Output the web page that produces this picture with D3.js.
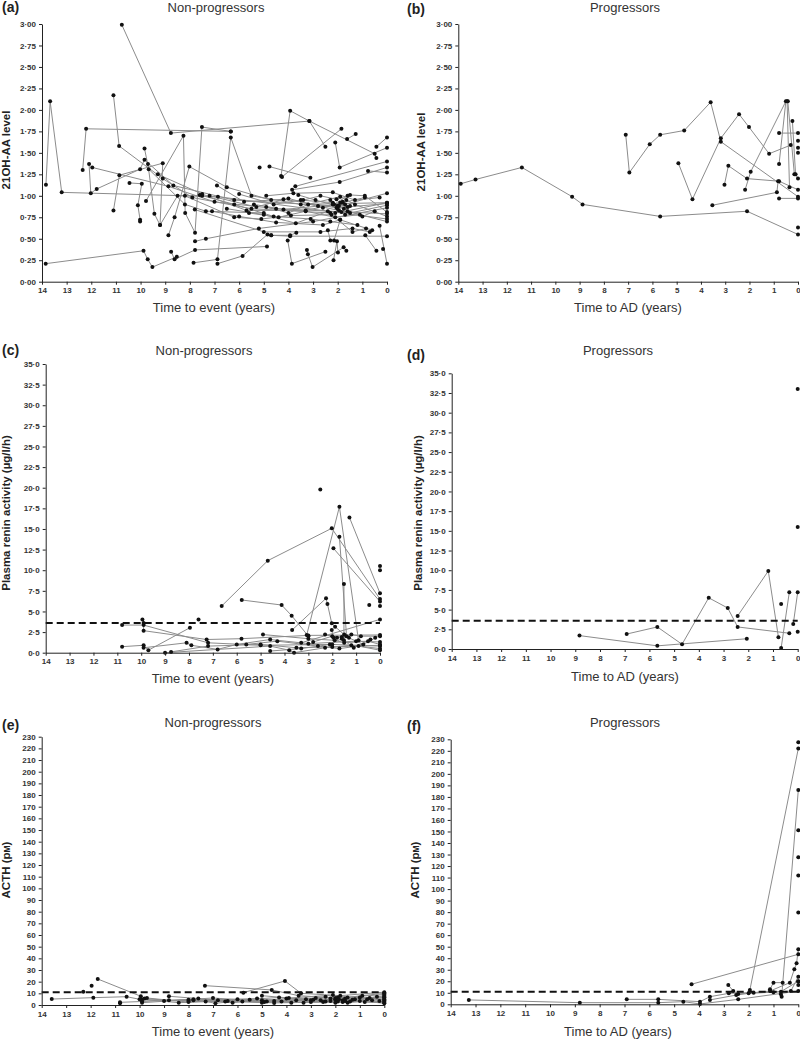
<!DOCTYPE html>
<html>
<head>
<meta charset="utf-8">
<script src="https://cdn.jsdelivr.net/npm/d3@7"></script>
<style>
body { margin: 0; background: #fff; }
svg text { font-family: "Liberation Sans", Arial, sans-serif; }
</style>
</head>
<body>
<div id="container"></div>
<script>

// each subject is a list of [years before event, value]
const aaNon = [
  [[13.84,1.13],[13.67,2.10],[13.2,1.04],[6.86,0.99],[0,0.73]],
  [[13.85,0.21],[9.88,0.36],[9.71,0.26],[9.52,0.17],[8.53,0.29]],
  [[8.76,0.35],[8.62,0.26],[7.79,0.37],[4.87,0.41]],
  [[12.35,1.30],[12.21,1.78],[6.34,1.75]],
  [[10.76,2.99],[8.77,1.73],[3.15,1.87],[0.5,1.49],[0.43,1.44]],
  [[11.1,2.17],[10.87,1.58],[9.1,1.2],[7.9,0.98],[5.5,0.85],[2.3,0.8]],
  [[11.1,0.83],[10.86,1.24],[9.1,1.38],[9.21,0.66]],
  [[12.09,1.37],[12.02,1.03],[11.78,1.08],[10.02,1.31],[9.84,1.42],[8.67,1.12],[6.2,0.95],[2.0,0.88]],
  [[11.96,1.33],[8.87,1.11],[7.0,0.93],[4.5,0.85],[0,0.79]],
  [[10.45,1.15],[9.95,1.14],[10.11,0.89],[10.02,0.72],[10.02,0.70]],
  [[9.84,1.55],[9.67,1.31],[8.2,0.9],[7.35,0.82],[5.0,0.8]],
  [[9.7,1.37],[9.44,0.79],[9.21,0.66],[8.5,1.0],[7.5,1.0]],
  [[9.78,0.94],[8.26,1.70],[8.19,0.80],[7.79,0.57],[7.51,1.80],[6.34,1.75]],
  [[8.87,0.54],[8.62,0.75],[8.02,1.34],[6.5,1.1],[4.7,0.95]],
  [[7.85,0.22],[6.88,0.26],[6.34,1.68],[5.5,1.0],[3.5,0.9],[0,0.92]],
  [[7.79,0.47],[7.35,0.50],[5.2,0.62],[3.0,0.7],[0,0.86]],
  [[6.88,0.21],[5.86,0.30],[4.85,0.55],[4.7,0.54],[3.93,0.54],[3.68,0.57]],
  [[5.17,1.33]],
  [[4.77,1.34],[3.11,1.21]],
  [[4.3,1.23],[3.93,1.99],[3.15,1.87],[2.5,1.57]],
  [[4.26,1.22],[1.85,1.78]],
  [[2.1,1.62],[1.92,1.33],[0,1.56]],
  [[1.62,1.66],[1.27,1.72]],
  [[0.43,1.57],[0,1.68]],
  [[3.72,1.11],[0,1.40]],
  [[3.85,1.07],[1.92,1.16],[0,1.33]],
  [[0.77,1.29],[0,1.27]],
  [[4.03,0.48],[3.86,0.21],[2.5,0.35]],
  [[3.25,0.37],[3.21,0.32],[3.02,0.17],[1.76,0.40],[1.65,0.36]],
  [[2.17,0.25],[2.03,0.47],[1.99,0.34]],
  [[0.88,0.54],[0.43,0.36]],
  [[0.16,0.38]],
  [[0.3,0.65],[0,0.21]],
  [[4.7,0.54],[3.93,0.53],[0,0.53]],
  [[6.0,1.02],[4.6,0.9],[3.5,0.95],[2.2,0.92],[1.6,0.87],[0,0.91]],
  [[5.6,0.8],[4.4,0.75],[3.3,0.82],[2.1,0.75],[1.1,0.78],[0,0.70]],
  [[7.2,1.0],[5.3,0.87],[4.0,0.97],[2.6,0.86],[1.8,0.92],[0.9,0.98]],
  [[6.5,0.85],[5.0,0.78],[3.7,0.68],[2.4,0.82],[1.5,0.80],[0,0.89]],
  [[4.9,1.0],[3.8,1.03],[2.2,1.04],[1.3,0.95],[0.3,0.98]],
  [[5.4,0.9],[4.2,0.84],[2.8,0.88],[1.95,0.83],[1.7,0.9],[0,1.03]],
  [[7.6,1.01],[6.2,0.9],[4.6,0.76],[3.1,0.73],[2.3,0.7],[1.2,0.66]],
  [[3.6,1.01],[2.9,0.95],[2.0,0.88],[1.75,0.85],[1.0,0.76],[0.5,0.82]],
  [[6.9,1.12],[5.8,0.93],[4.2,0.96],[2.05,0.86],[1.85,0.81],[0,0.92]],
  [[9.3,1.25],[7.5,1.02],[5.7,0.83],[3.3,0.83],[2.15,0.9],[1.6,1.0]],
  [[8.2,1.0],[6.2,0.75],[5.1,0.73],[3.9,0.77],[2.25,0.78],[1.4,0.58],[0.85,0.62]],
  [[7.1,0.82],[6.0,0.76],[4.5,0.69],[2.6,0.66],[1.9,0.72],[0.6,0.6]],
  [[3.4,0.95],[2.7,1.0],[2.05,0.96],[1.5,1.01],[0.9,1.0],[0,0.81]],
  [[4.9,0.87],[4.0,0.8],[3.2,0.9],[1.9,0.99],[1.3,0.9],[0,0.76]],
  [[7.8,0.84],[5.0,0.58],[2.7,0.58],[1.4,0.62],[0.7,0.58]],
  [[2.4,0.6],[2.3,0.48],[2.15,0.48],[1.9,0.72]],
  [[2.2,0.9],[2.0,0.85],[1.8,0.93],[1.6,0.82]],
  [[2.1,0.8],[1.9,0.92],[1.7,0.78],[1.5,0.88]],
  [[2.3,0.95],[1.95,0.88],[1.65,0.95]]
];

const aaProg = [
  [[13.9,1.14],[13.29,1.19],[11.38,1.33],[9.31,0.99],[8.88,0.9],[5.68,0.76],[2.1,0.82],[0,0.55]],
  [[7.1,1.71],[6.95,1.27],[6.11,1.6],[5.68,1.71],[4.69,1.76],[3.6,2.09],[3.18,1.63],[0,0.99]],
  [[4.93,1.38],[4.35,0.96],[3.18,1.67],[2.43,1.95],[2.02,1.8],[1.19,1.49],[0.3,1.59]],
  [[2.18,1.07],[1.95,1.28],[0.5,2.1],[0.78,1.37]],
  [[0.45,2.1],[0.35,1.1]],
  [[0.42,2.1],[0.15,1.25]],
  [[0.78,1.73],[0,1.73]],
  [[3.03,1.13],[2.87,1.35],[2.1,1.2],[0.78,1.17],[0,1.07]],
  [[3.53,0.89],[0.87,1.04],[0.82,1.17]],
  [[0.78,0.97],[0,0.97]],
  [[0.23,1.87],[0.1,1.25],[0,1.2]],
  [[0,1.64]], [[0,1.56]], [[0,1.5]], [[0,0.63]]
];

const reninNon = [
  [[10.8,3.35],[9.9,3.35],[7.2,1.2],[5.0,0.9],[2.0,1.0],[0,0.8]],
  [[9.95,4.04],[9.9,3.6],[9.9,2.67],[7.26,1.6],[5.8,1.7],[3.0,2.1],[0,2.15]],
  [[10.8,0.73],[9.9,0.9],[9.7,0.3],[7.96,3.03]],
  [[9.9,0.6],[8.1,1.2],[7.9,0.9],[6.8,0.4],[6.0,1.0],[4.6,1.6],[3.0,1.1],[1.0,1.4],[0,1.3]],
  [[8.75,0.1],[7.2,0.8],[5.0,1.0],[3.5,0.6],[2.0,0.7],[0,0.9]],
  [[9.0,0.0],[4.6,0.8],[3.8,0.3],[3.6,0.0],[2.3,0.6],[1.2,0.9],[0,0.5]],
  [[7.6,4.04]],
  [[6.63,5.66],[4.7,11.16],[2.02,15.08],[0,6.5]],
  [[1.95,12.65],[0,6.2]],
  [[1.28,16.4],[0,7.2]],
  [[2.5,19.8]],
  [[3.07,2.14],[1.7,17.7],[0.9,1.5]],
  [[1.7,14.07],[1.4,2.0]],
  [[5.79,6.39],[4.12,5.78],[3.7,4.49],[3.0,2.0]],
  [[3.68,2.75],[2.26,6.59],[2.2,5.9],[2.02,3.56],[1.88,3.15],[1.5,2.2]],
  [[2.02,2.75],[1.95,1.8]],
  [[1.51,8.33],[1.51,1.5]],
  [[0.45,5.78]],
  [[0,10.5]], [[0,10.0]], [[0,5.66]],
  [[3.3,1.2],[0,4.04]],
  [[2.3,2.2],[1.8,1.8],[1.2,2.2],[0.8,2.0],[0,2.0]],
  [[4.9,2.2],[3.0,1.7],[1.9,1.5],[1.5,1.2],[0.5,1.4],[0,1.0]],
  [[5.6,1.0],[4.3,1.4],[2.6,0.8],[1.7,0.5],[0.9,0.8],[0,0.3]],
  [[4.6,0.2],[3.3,0.5],[2.1,1.0],[1.6,1.7],[1.1,0.6],[0.4,1.6]],
  [[2.8,1.3],[2.0,2.0],[1.6,1.9],[1.3,1.8],[0.7,1.0],[0.2,1.8]]
];

const reninProg = [
  [[8.83,1.7],[5.68,0.4],[2.06,1.3]],
  [[6.92,1.9],[5.68,2.8],[4.68,0.6],[3.6,6.5],[2.83,5.2],[2.43,2.8],[0.34,2.0]],
  [[2.43,4.2],[1.19,9.9],[0.78,1.5]],
  [[0.67,0.13],[0.34,7.2]],
  [[0.18,3.17],[0,7.2]],
  [[0.67,5.7]], [[0,15.5]], [[0,33.0]], [[0,2.2]]
];

const acthNon = [
  [[13.59,5.1],[11.89,6.3],[10.53,7.1],[9.9,4.5],[8.0,3.5],[5.0,4.0],[2.0,5.0],[0,6.0]],
  [[12.3,11.4]],
  [[11.96,16.6]],
  [[11.71,22.3],[9.95,7.5],[9.8,5.5],[8.8,4.0],[6.5,3.0],[3.0,2.5],[0,3.0]],
  [[10.8,1.5],[10.8,2.3],[9.9,3.0],[7.8,5.0],[4.5,3.5],[2.0,4.5],[0,7.0]],
  [[7.33,16.6],[4.6,12.9],[3.5,8.0],[2.0,6.0],[0,9.0]],
  [[5.76,10.6],[4.06,20.6],[3.4,10.0],[1.8,8.0],[0,11.0]],
  [[8.8,7.5],[7.6,5.5],[6.2,2.0],[4.0,5.5],[1.0,6.5],[0,4.0]],
  [[9.9,2.0],[8.0,4.5],[5.8,3.0],[4.5,1.8],[2.5,2.5],[1.0,3.5],[0,1.5]],
  [[9.7,6.0],[8.0,2.5],[6.8,4.0],[5.0,2.0],[3.0,4.0],[1.5,2.0],[0,5.0]],
  [[7.3,3.0],[6.9,1.5],[5.5,4.5],[4.2,3.0],[2.8,6.0],[1.9,3.0],[0.5,4.0]],
  [[7.8,4.0],[5.2,5.5],[3.8,2.0],[2.2,3.5],[1.6,5.5],[0.8,2.5],[0,2.0]],
  [[9.0,3.5],[7.0,6.0],[4.8,3.0],[3.2,5.0],[2.0,2.0],[1.2,5.0],[0.3,7.0]],
  [[6.0,5.0],[4.9,2.5],[3.6,4.0],[2.4,7.0],[1.7,4.0],[0.6,6.0],[0,8.0]],
  [[10.0,5.0],[8.4,2.0],[6.4,3.5],[4.3,6.5],[2.6,4.0],[1.4,3.0],[0.2,3.5]],
  [[5.0,8.0],[3.9,6.0],[2.1,8.5],[1.5,6.5],[0.9,8.0],[0,10.0]],
  [[2.4,3.0],[2.2,5.5],[1.9,6.5],[1.7,2.5],[1.3,4.5]],
  [[3.3,2.0],[2.9,4.5],[1.85,5.0],[1.6,3.5],[0.7,5.0],[0,6.5]]
];

const acthProg = [
  [[13.27,3.8],[8.8,1.4],[5.64,1.4],[4.63,2.3],[3.96,0.3],[2.42,4.3],[0,11.5]],
  [[6.91,4.3],[5.64,4.3],[3.96,2.3],[3.56,6.6],[2.8,9.5],[0.7,11],[0,20]],
  [[4.3,17.4],[0,43.4]],
  [[1.95,12.4],[0,222]],
  [[0,227.5]],
  [[1.14,13.0],[1.0,18.8],[0.63,18.8]],
  [[0.7,8.7],[0.67,6.6],[0,186]],
  [[2.82,16.8],[2.62,11.6],[2.42,9.0],[1.8,10.0],[1.14,11.5],[0.34,18.8],[0.16,30.4],[0.07,35.6],[0,47.7]],
  [[3.56,3.8],[2.5,8],[2.0,9.5],[1.0,10.5],[0.3,11.5],[0,24]],
  [[0,151]], [[0,127.6]], [[0,111.7]], [[0,79.6]], [[0,19.7]], [[0,16.8]]
];

const yearTicks = d3.range(0, 15);
const aaTicks = d3.range(0, 3.001, 0.25);
const reninTicks = d3.range(0, 35.001, 2.5);
const acthTicks = d3.range(0, 231, 10);
const reninCut = 3.6;
const acthCut = 11;

const panels = [
  { tag: '(a)', title: 'Non-progressors', xTitle: 'Time to event (years)', yTitle: '21OH-AA level',
    data: aaNon, ticks: aaTicks, fmt: '.2f', cut: null,
    xr: [42, 387], yr: [281.7, 24], tagY: 12, titleX: 216, titleY: 12, xTitleX: 214, xTitleY: 312, yTitleX: 10, yTitleY: 150 },
  { tag: '(b)', title: 'Progressors', xTitle: 'Time to AD (years)', yTitle: '21OH-AA level',
    data: aaProg, ticks: aaTicks, fmt: '.2f', cut: null,
    xr: [458.3, 798], yr: [281.7, 24], tagY: 14, titleX: 625, titleY: 12, xTitleX: 628, xTitleY: 312, yTitleX: 425, yTitleY: 152 },
  { tag: '(c)', title: 'Non-progressors', xTitle: 'Time to event (years)', yTitle: 'Plasma renin activity (µg/l/h)',
    data: reninNon, ticks: reninTicks, fmt: '.1f', cut: reninCut,
    xr: [45.7, 380], yr: [652.7, 364], tagY: 355, titleX: 204, titleY: 355, xTitleX: 213, xTitleY: 683, yTitleX: 10, yTitleY: 513 },
  { tag: '(d)', title: 'Progressors', xTitle: 'Time to AD (years)', yTitle: 'Plasma renin activity (µg/l/h)',
    data: reninProg, ticks: reninTicks, fmt: '.1f', cut: reninCut,
    xr: [451.7, 797.7], yr: [649, 373.3], tagY: 360, titleX: 618, titleY: 355, xTitleX: 625, xTitleY: 681, yTitleX: 422, yTitleY: 513 },
  { tag: '(e)', title: 'Non-progressors', xTitle: 'Time to event (years)', yTitle: 'ACTH (p',
    data: acthNon, ticks: acthTicks, fmt: 'd', cut: acthCut,
    xr: [41.7, 384.3], yr: [1005, 736.7], tagY: 730, titleX: 213, titleY: 727, xTitleX: 213, xTitleY: 1036, yTitleX: 10, yTitleY: 870 },
  { tag: '(f)', title: 'Progressors', xTitle: 'Time to AD (years)', yTitle: 'ACTH (p',
    data: acthProg, ticks: acthTicks, fmt: 'd', cut: acthCut,
    xr: [450.7, 798.3], yr: [1004.3, 739.3], tagY: 731, titleX: 625, titleY: 727, xTitleX: 618, xTitleY: 1036, yTitleX: 419, yTitleY: 870 }
];

const svg = d3.select('#container').append('svg')
    .attr('width', 800)
    .attr('height', 1042);

panels.forEach(p => {
  const x = d3.scaleLinear().domain([14, 0]).range(p.xr);
  const y = d3.scaleLinear().domain([0, d3.max(p.ticks)]).range(p.yr);
  const fmt = d3.format(p.fmt);
  const g = svg.append('g');

  const line = d3.line().x(d => x(d[0])).y(d => y(d[1]));

  g.selectAll('path.subj').data(p.data.filter(s => s.length > 1)).enter().append('path')
      .attr('class', 'subj')
      .attr('d', line)
      .attr('fill', 'none')
      .attr('stroke', '#8c8c8c')
      .attr('stroke-width', 1);

  if (p.cut != null) {
    g.append('line')
        .attr('x1', x(14)).attr('x2', x(0))
        .attr('y1', y(p.cut)).attr('y2', y(p.cut))
        .attr('stroke', '#111')
        .attr('stroke-width', 2)
        .attr('stroke-dasharray', '7,4');
  }

  g.selectAll('circle').data(p.data.flat()).enter().append('circle')
      .attr('cx', d => x(d[0]))
      .attr('cy', d => y(d[1]))
      .attr('r', 2)
      .attr('fill', '#111');

  const xAxis = g.append('g')
      .attr('transform', `translate(0,${p.yr[0]})`)
      .call(d3.axisBottom(x).tickValues(yearTicks).tickSize(3).tickSizeOuter(0).tickPadding(3));
  const yAxis = g.append('g')
      .attr('transform', `translate(${p.xr[0]},0)`)
      .call(d3.axisLeft(y).tickValues(p.ticks).tickSize(3).tickSizeOuter(0).tickPadding(3)
        .tickFormat(d => fmt(d).replace('.', '·')));

  [xAxis, yAxis].forEach(a => {
    a.attr('font-size', 8).attr('font-weight', 'bold').attr('font-family', '"Liberation Sans", Arial, sans-serif');
    a.selectAll('text').attr('fill', '#333');
    a.select('.domain').attr('stroke', '#222');
    a.selectAll('.tick line').attr('stroke', '#222');
  });

  g.append('text')
      .attr('x', p.xr[0] < 100 ? 2 : 407)
      .attr('y', p.tagY)
      .attr('font-size', 14)
      .attr('font-weight', 'bold')
      .attr('fill', '#222')
      .text(p.tag);

  g.append('text')
      .attr('x', p.titleX).attr('y', p.titleY)
      .attr('text-anchor', 'middle')
      .attr('font-size', 13)
      .attr('fill', '#333')
      .text(p.title);

  g.append('text')
      .attr('x', p.xTitleX).attr('y', p.xTitleY)
      .attr('text-anchor', 'middle')
      .attr('font-size', 13)
      .attr('fill', '#333')
      .text(p.xTitle);

  const yt = g.append('text')
      .attr('transform', `translate(${p.yTitleX},${p.yTitleY}) rotate(-90)`)
      .attr('text-anchor', 'middle')
      .attr('font-size', 11.5)
      .attr('font-weight', 'bold')
      .attr('fill', '#222')
      .text(p.yTitle);
  if (p.yTitle === 'ACTH (p') {
    yt.append('tspan').attr('font-size', 8.5).text('M');
    yt.append('tspan').text(')');
  }
});

</script>
</body>
</html>
